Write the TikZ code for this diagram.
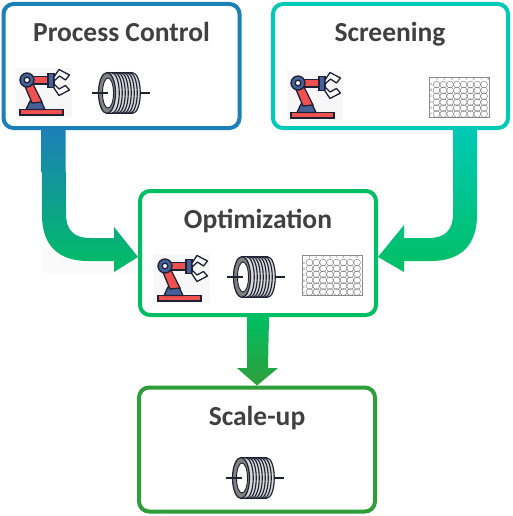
\documentclass[tikz,border=0pt]{standalone}
\usepackage{fontspec}
\setmainfont{Carlito}
\definecolor{cblue}{HTML}{1C80B8}
\definecolor{cteal}{HTML}{00C9B5}
\definecolor{cgreen}{HTML}{00BF63}
\definecolor{cdark}{HTML}{2F9E3A}
\definecolor{ctext}{HTML}{404040}
\definecolor{rred}{HTML}{F0504F}
\definecolor{rblue}{HTML}{46609A}
\definecolor{rink}{HTML}{1E2233}
\tikzset{
  card/.style={draw=#1,line width=4pt,fill=white,rounded corners=10pt,outer sep=2pt,
    minimum width=236pt,minimum height=124pt,inner sep=0pt},
  ttl/.style={font=\bfseries\fontsize{27.5}{27.5}\selectfont,text=ctext,inner sep=0pt,anchor=base},
  robot/.pic={
    \fill[black!3] (0,0) rectangle (56,49);
    \draw[rink,line width=1.3pt,fill=rred] (4,41.5) rectangle (47,47);
    \draw[rink,line width=1.3pt,fill=rblue] (14,33) -- (25,33) -- (29,41.5) -- (10,41.5) -- cycle;
    \draw[rink,line width=1.3pt,fill=rred] (8,16) -- (15,12) -- (26,34) -- (16,35) -- cycle;
    \draw[rink,line width=1.3pt,fill=rred] (16,8.5) rectangle (33,16);
    \draw[rink,line width=1.3pt,fill=rblue] (32,5.5) rectangle (38,19.5);
    \draw[rink,line width=1.3pt,fill=rblue] (11,12) circle (7);
    \draw[rink,line width=1.3pt,fill=white] (11,12) circle (2.8);
    \draw[rink,line width=1.3pt,fill=white,line join=round] (38,9) -- (43,1.5) -- (53.5,7) -- (49.5,12) -- (43.5,8) -- (38,13) -- cycle;
    \draw[rink,line width=1.3pt,fill=white,line join=round] (38,16) -- (43,21) -- (49.5,17.5) -- (53.5,22) -- (43,27.5) -- (38,20) -- cycle;
  },
  coil/.pic={
    \fill[black!15] (0,-20.5) -- (25,-20.5) .. controls (37,-20.5) and (37,20.5) .. (25,20.5) -- (0,20.5) -- cycle;
    \foreach \d in {4,7,10,13,16,19,22,25}{
      \draw[rink,line width=1.15pt] (\d,-20.5) .. controls (\d+11,-20.5) and (\d+11,20.5) .. (\d,20.5);
    }
    \draw[rink,line width=1.2pt] (0,-20.5) -- (25,-20.5) (0,20.5) -- (25,20.5);
    \draw[rink,line width=1.2pt,fill=black!50] (0,0) ellipse (8.5 and 20.5);
    \draw[rink,line width=.9pt,fill=white] (1,0) ellipse (5.5 and 15);
    \draw[rink,line width=1.2pt] (-15,0) -- (1,0) (33,0) -- (43,0);
  },
  plate/.pic={
    \draw[black!45,line width=.5pt,fill=white] (0,0) rectangle (60,40);
    \foreach \c in {0,...,7}{
      \foreach \r in {0,...,5}{
        \draw[black!55,line width=.4pt] (7.5+\c*6.8,7.5+\r*5.9) circle (3.4);
      }
    }
  },
  tinylbl/.style={font=\fontsize{3.5}{3.5}\selectfont,text=black!60,inner sep=0pt},
}
\begin{document}
\begin{tikzpicture}[x=1pt,y=-1pt]
\useasboundingbox (0,0) rectangle (512,516);
\fill[white] (0,0) rectangle (512,516);
\fill[black!2] (42,248) rectangle (137,273);
\node[card=cblue] (pc) at (121.5,66) {};
\node[card=cteal,minimum width=235pt] (sc) at (390.5,66) {};
\node[card=cgreen] (op) at (258,253) {};
\node[card=cdark] (su) at (257,449.5) {};
\node[ttl] (tpc) at (121.5,42) {Process Control};
\node[ttl] (tsc) at (390,42) {Screening};
\node[ttl] (top) at (258,228) {Optimization};
\node[ttl] (tsu) at (257,425) {Scale-up};
% block arrows
\shade[top color=cblue,bottom color=cgreen,middle color=cblue!50!cgreen,shading angle=0]
  ([xshift=40pt]pc.south west) -- ++(24,0) -- (66,214) .. controls (66,230) and (74,238) .. (90,238)
  -- (114,238) -- (114,227) -- ([yshift=-4pt]op.west) -- (114,272) -- (114,261) -- (88,261)
  .. controls (58,261) and (42,245) .. (42,215) -- cycle;
\shade[top color=cteal,bottom color=cgreen,shading angle=0]
  ([xshift=-33pt]sc.south east) -- ++(-24,0) -- (453,214) .. controls (453,230) and (445,238) .. (429,238)
  -- (404,238) -- (404,225) -- ([yshift=-4pt]op.east) -- (404,272) -- (404,261) -- (431,261)
  .. controls (461,261) and (477,245) .. (477,215) -- cycle;
\shade[top color=cgreen,bottom color=cdark]
  ([xshift=-11pt]op.south) -- ++(22,0) -- (268,368) -- (278,368) -- (su.north) -- (237,368) -- (247,368) -- cycle;
% icons
\pic at (16,68) {robot};
\pic at (287,71) {robot};
\pic at (154,254) {robot};
\pic at (107,93) {coil};
\pic at (242,277) {coil};
\pic at (241,478) {coil};
\begin{scope}[shift={(429,77)},xscale=1.08]
\pic {plate};
\foreach \c in {1,...,8}{\node[tinylbl] (a\c) at (7.5+\c*6.8-6.8,2.2) {\c};}
\foreach \r/\t in {0/A,1/B,2/C,3/D,4/E,5/F}{\node[tinylbl] (b\r) at (2.2,7.5+\r*5.9) {\t};}
\end{scope}
\begin{scope}[shift={(302,255)},yscale=1.05]
\pic {plate};
\foreach \c in {1,...,8}{\node[tinylbl] (c\c) at (7.5+\c*6.8-6.8,2.2) {\c};}
\foreach \r/\t in {0/A,1/B,2/C,3/D,4/E,5/F}{\node[tinylbl] (d\r) at (2.2,7.5+\r*5.9) {\t};}
\end{scope}
\end{tikzpicture}
\end{document}
